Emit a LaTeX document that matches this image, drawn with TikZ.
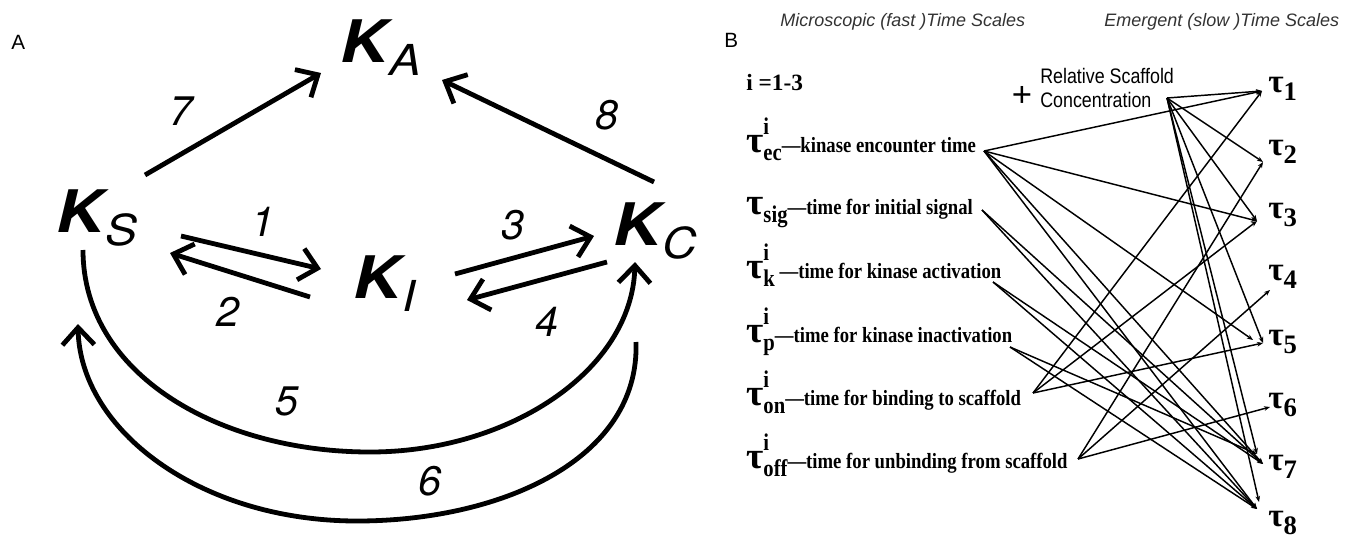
\documentclass[tikz,border=0pt]{standalone}
\usepackage{fontspec}
\usetikzlibrary{arrows.meta}
\newfontfamily\helv{TeX Gyre Heros}
\newfontfamily\helvw{TeX Gyre Heros}[FakeStretch=1.12]
\newfontfamily\lsans{Liberation Sans}
\newfontfamily\lsansn{Liberation Sans}[FakeStretch=0.85]
\newfontfamily\tms{Liberation Serif}
\newfontfamily\tmsn{Liberation Serif}[FakeStretch=0.86]
\newcommand{\fs}[1]{\fontsize{#1}{#1}\selectfont}
\newcommand{\supsub}[2]{\makebox[0pt][l]{\raisebox{13pt}{\fs{18}#1}}\raisebox{-6.5pt}{\fs{18}#2}}
\newcommand{\subonly}[1]{\raisebox{-6.5pt}{\fs{18}#1}}
\newcommand{\bigtau}{{\tms\fs{28}τ}}
\newcommand{\rtau}[1]{{\fs{25}τ}\raisebox{-6.5pt}{\fs{20}#1}}
\newcommand{\kay}[1]{K\kern1pt\raisebox{-10pt}{\fs{32}\mdseries #1}}
\begin{document}
\begin{tikzpicture}[x=0.75pt,y=-0.75pt,
  klab/.style={font=\helvw\fs{44}\bfseries\itshape, inner sep=0pt, anchor=base west},
  nlab/.style={font=\helv\fs{31}\itshape, inner sep=0pt},
  arr/.style={line width=3.6pt, -{Straight Barb[length=13pt,width=24pt]}},
  plab/.style={font=\lsans\fs{15.5}, inner sep=0pt, anchor=base west},
  hdr/.style={font=\lsans\itshape\fs{13.5}, text=black!80, inner sep=0pt, anchor=base west},
  llab/.style={font=\tmsn\bfseries\fs{16.3}, inner sep=0pt, anchor=base west},
  rlab/.style={font=\tms\bfseries, inner sep=0pt, anchor=base west},
  link/.style={line width=1.1pt, -{Stealth[length=4.5pt,width=3.5pt]}}]
\useasboundingbox (0,0) rectangle (1345,543);
\fill[white] (0,0) rectangle (1345,543);

% ---------- Panel A ----------
\node[plab] (labA) at (11,49) {A};
\node[klab] (KA) at (340,62) {\kay{A}};
\node[klab] (KS) at (56,232) {\kay{S}};
\node[klab] (KI) at (353,298) {\kay{I}};
\node[klab] (KC) at (613,245) {\kay{C}};

\coordinate (a7s) at (145,175); \coordinate (a7e) at (321,73);
\coordinate (a8s) at (654,182); \coordinate (a8e) at (442,80);
\coordinate (a1s) at (181,236); \coordinate (a1e) at (321,269);
\coordinate (a2s) at (310,297); \coordinate (a2e) at (170,253);
\coordinate (a3s) at (455,274); \coordinate (a3e) at (594,236);
\coordinate (a4s) at (607,262); \coordinate (a4e) at (467,300);
\coordinate (a5s) at (83,250);  \coordinate (a5m) at (370,452); \coordinate (a5e) at (635,262);
\coordinate (a6s) at (636,342); \coordinate (a6m) at (357,521); \coordinate (a6e) at (78,324);

\draw[arr] (a7s) -- (a7e);
\draw[arr] (a8s) -- (a8e);
\draw[arr] (a1s) -- (a1e);
\draw[arr] (a2s) -- (a2e);
\draw[arr] (a3s) -- (a3e);
\draw[arr] (a4s) -- (a4e);
\draw[arr] (a5s) .. controls (83,375) and (220,452) .. (a5m)
  .. controls (510,452) and (632,370) .. (a5e);
\draw[arr] (a6s) .. controls (640,460) and (500,521) .. (a6m)
  .. controls (200,521) and (80,430) .. (a6e);

\node[nlab] (n7) at (181,111) {7};
\node[nlab] (n8) at (607,115) {8};
\node[nlab] (n1) at (263,222) {1};
\node[nlab] (n2) at (228,312) {2};
\node[nlab] (n3) at (513,225) {3};
\node[nlab] (n4) at (547,322) {4};
\node[nlab] (n5) at (287,401) {5};
\node[nlab] (n6) at (430,481) {6};

% ---------- Panel B ----------
\node[plab] (labB) at (724,47) {B};
\node[hdr] (h1) at (780,26) {Microscopic (fast )Time Scales};
\node[hdr] (h2) at (1104,26) {Emergent (slow )Time Scales};
\node[inner sep=0pt, anchor=base west, font=\tms\bfseries\fs{17.5}] (ivals) at (746,90) {i =1-3};
\node[inner sep=0pt, font=\lsans\fs{26}] (plus) at (1022,96) {+};
\node[inner sep=0pt, anchor=base west, font=\lsansn\fs{15.75}] (rs1) at (1040,83) {Relative Scaffold};
\node[inner sep=0pt, anchor=base west, font=\lsansn\fs{15.75}] (rs2) at (1040,107) {Concentration};

\node[llab] (Lec)  at (746,152) {\bigtau\supsub{i}{ec}—kinase encounter time};
\node[llab] (Lsig) at (746,214) {\bigtau\subonly{sig}—time for initial signal};
\node[llab] (Lk)   at (746,278) {\bigtau\supsub{i}{k} —time for kinase activation};
\node[llab] (Lp)   at (746,342) {\bigtau\supsub{i}{p}—time for kinase inactivation};
\node[llab] (Lon)  at (746,405) {\bigtau\supsub{i}{on}—time for binding to scaffold};
\node[llab] (Loff) at (746,468) {\bigtau\supsub{i}{off}—time for unbinding from scaffold};

\node[rlab] (T1) at (1268,92)  {\rtau{1}};
\node[rlab] (T2) at (1268,155) {\rtau{2}};
\node[rlab] (T3) at (1268,218) {\rtau{3}};
\node[rlab] (T4) at (1268,280) {\rtau{4}};
\node[rlab] (T5) at (1268,345) {\rtau{5}};
\node[rlab] (T6) at (1268,408) {\rtau{6}};
\node[rlab] (T7) at (1268,470) {\rtau{7}};
\node[rlab] (T8) at (1268,526) {\rtau{8}};

% source points
\coordinate (rsc)  at (1167,98);
\coordinate (sec)  at (984,151);
\coordinate (ssig) at (982,210);
\coordinate (sk)   at (993,282);
\coordinate (sp)   at (1010,347);
\coordinate (son)  at (1033,393);
\coordinate (soff) at (1078,459);
% target points
\coordinate (t1)  at (1262,91);
\coordinate (t2)  at (1263,162);
\coordinate (t3)  at (1257,221);
\coordinate (t4)  at (1270,290);
\coordinate (t5a) at (1253,340);
\coordinate (t5b) at (1263,343);
\coordinate (t6)  at (1270,407);
\coordinate (t7a) at (1257,454);
\coordinate (t7b) at (1263,464);
\coordinate (t8a) at (1259,502);
\coordinate (t8b) at (1257,509);

\foreach \t in {t1,t2,t3,t5b,t7a,t8a} \draw[link] (rsc) -- (\t);
\foreach \t in {t1,t3,t5a,t7b,t8b} \draw[link] (sec) -- (\t);
\foreach \t in {t7b,t8b} \draw[link] (ssig) -- (\t);
\foreach \t in {t7b,t8b} \draw[link] (sk) -- (\t);
\foreach \t in {t7a,t8b} \draw[link] (sp) -- (\t);
\foreach \t in {t1,t3,t5b} \draw[link] (son) -- (\t);
\foreach \t in {t2,t4,t6} \draw[link] (soff) -- (\t);
\end{tikzpicture}
\end{document}
